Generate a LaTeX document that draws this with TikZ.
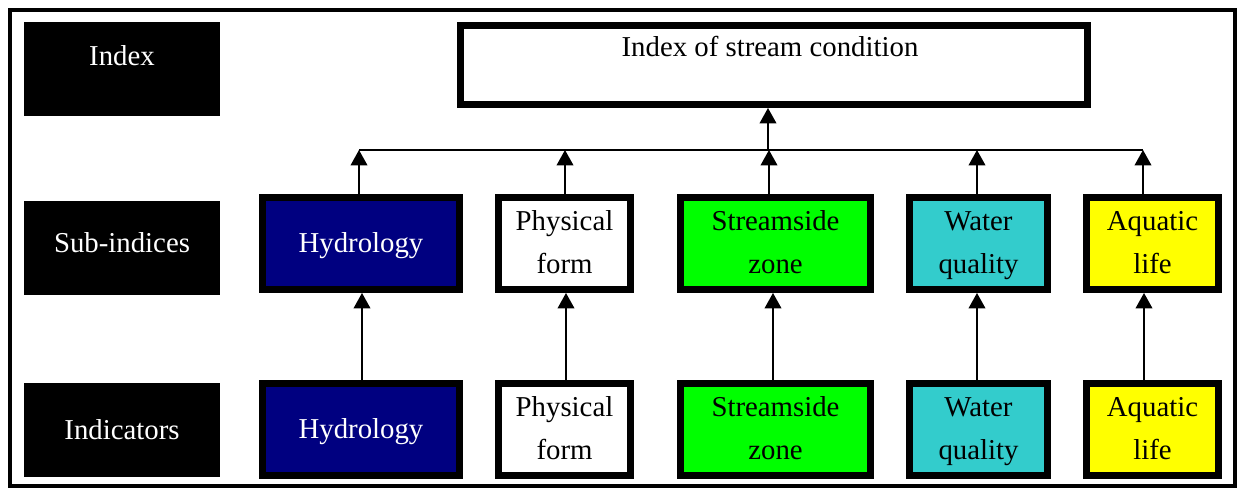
\documentclass[tikz,border=0pt]{standalone}
\usepackage{fontspec}
\setmainfont{Liberation Serif}
\usetikzlibrary{arrows.meta}
\definecolor{hydro}{HTML}{000080}
\definecolor{stream}{HTML}{00FF00}
\definecolor{water}{HTML}{33CCCC}
\definecolor{aqua}{HTML}{FFFF00}
\tikzset{
  txt/.style={font=\fontsize{21.6}{32}\selectfont, align=center},
  box/.style={txt, draw=black, line width=5.25pt, minimum height=69pt, inner sep=0pt},
  lab/.style={fill=black, inner sep=0pt, outer sep=0pt, minimum width=147pt, minimum height=70.5pt},
  arr/.style={-{Triangle[length=11.5pt,width=12.5pt]}, line width=1.1pt},
  bus/.style={line width=1.1pt}
}
\begin{document}
\begin{tikzpicture}[x=0.75pt,y=-0.75pt]
\useasboundingbox (0,0) rectangle (1239,489);
\draw[line width=3pt] (9.5,9.5) rectangle (1235,486);

% label boxes
\node[lab] (lIdx) at (122,69) {};
\node[txt, text=white] (tIdx) at (122,56) {Index};
\node[lab] (lSub) at (122,248) {};
\node[txt, text=white] (tSub) at (122,243) {Sub-indices};
\node[lab] (lInd) at (122,430) {};
\node[txt, text=white] (tInd) at (122,430) {Indicators};

% top box
\node[box, minimum width=470.25pt, minimum height=59.25pt] (top) at (774,65) {};
\node[txt] (ttop) at (770,47) {Index of stream condition};

% sub-index row
\node[box, fill=hydro, text=white, minimum width=147.75pt] (hS) at (361,243.5) {Hydrology\strut};
\node[box, fill=white, minimum width=99pt] (pS) at (564.5,243.5) {Physical\strut\\form\strut};
\node[box, fill=stream, minimum width=142.5pt] (sS) at (775.5,243.5) {Streamside\strut\\zone\strut};
\node[box, fill=water, minimum width=103.5pt] (wS) at (978.5,243.5) {Water\strut\\quality\strut};
\node[box, fill=aqua, minimum width=99pt] (aS) at (1152.5,243.5) {Aquatic\strut\\life\strut};

% indicator row
\node[box, fill=hydro, text=white, minimum width=147.75pt] (hI) at (361,429.5) {Hydrology\strut};
\node[box, fill=white, minimum width=99pt] (pI) at (564.5,429.5) {Physical\strut\\form\strut};
\node[box, fill=stream, minimum width=142.5pt] (sI) at (775.5,429.5) {Streamside\strut\\zone\strut};
\node[box, fill=water, minimum width=103.5pt] (wI) at (978.5,429.5) {Water\strut\\quality\strut};
\node[box, fill=aqua, minimum width=99pt] (aI) at (1152.5,429.5) {Aquatic\strut\\life\strut};

% columns for lower arrows
\coordinate (c1) at (362,0);
\coordinate (c2) at (566,0);
\coordinate (c3) at (773,0);
\coordinate (c4) at (977,0);
\coordinate (c5) at (1144,0);
\draw[arr] (hI.north -| c1) -- (hS.south -| c1);
\draw[arr] (pI.north -| c2) -- (pS.south -| c2);
\draw[arr] (sI.north -| c3) -- (sS.south -| c3);
\draw[arr] (wI.north -| c4) -- (wS.south -| c4);
\draw[arr] (aI.north -| c5) -- (aS.south -| c5);

% bus
\coordinate (b1) at (359,150);
\coordinate (b2) at (565,150);
\coordinate (b3) at (769,150);
\coordinate (b4) at (977,150);
\coordinate (b5) at (1143,150);
\coordinate (bt) at (768,150);
\draw[bus] (b1) -- (b5);
\draw[arr] (hS.north -| b1) -- (b1);
\draw[arr] (pS.north -| b2) -- (b2);
\draw[arr] (sS.north -| b3) -- (b3);
\draw[arr] (wS.north -| b4) -- (b4);
\draw[arr] (aS.north -| b5) -- (b5);
\draw[arr] (bt) -- (top.south -| bt);
\end{tikzpicture}
\end{document}
